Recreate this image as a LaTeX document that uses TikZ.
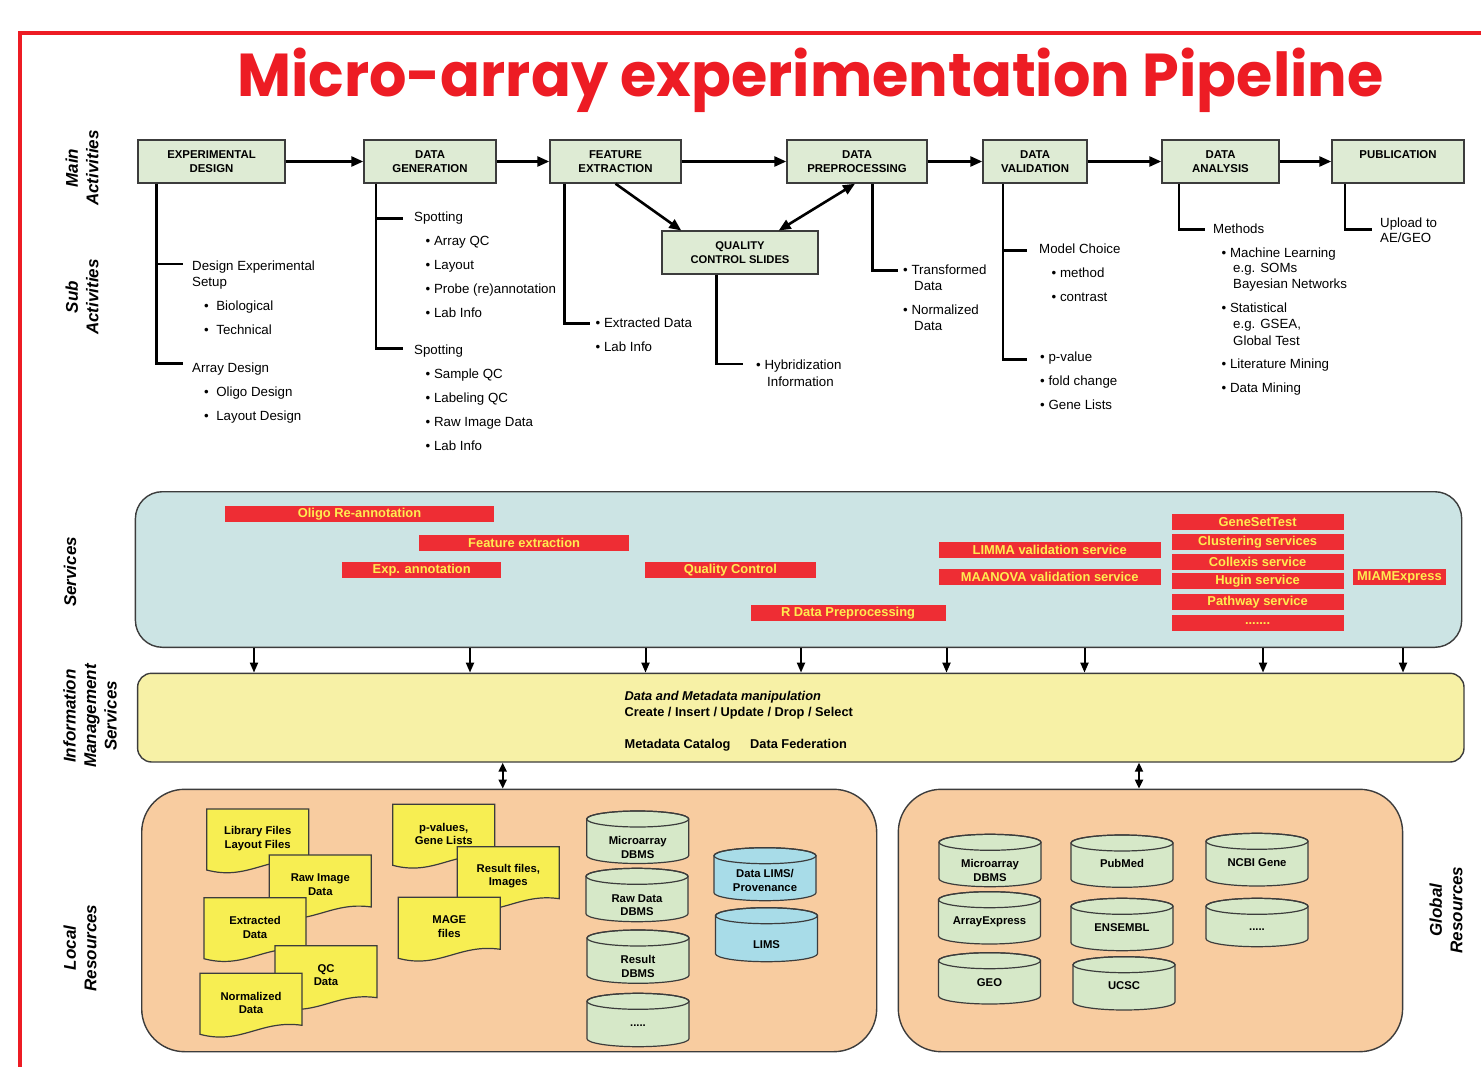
\documentclass[tikz,border=0pt]{standalone}
\usepackage{graphicx}
\usepackage{fontspec}
\setmainfont{Liberation Sans}
\newfontfamily\titlefont{Poppins}
\usetikzlibrary{arrows.meta}

\definecolor{framered}{RGB}{237,28,36}
\definecolor{boxgreen}{RGB}{222,235,212}
\definecolor{svcblue}{RGB}{204,228,228}
\definecolor{barred}{RGB}{238,45,52}
\definecolor{baryellow}{RGB}{255,236,80}
\definecolor{infoyellow}{RGB}{247,241,166}
\definecolor{peach}{RGB}{248,204,160}
\definecolor{docyellow}{RGB}{247,238,82}
\definecolor{cylgreen}{RGB}{214,232,200}
\definecolor{cylblue}{RGB}{168,220,232}
\definecolor{edge}{RGB}{60,60,60}

\tikzset{
  mainbox/.style={draw=edge, line width=1.4pt, fill=boxgreen, minimum height=43pt,
    inner sep=0pt, align=center, font=\bfseries\fontsize{11.4}{14}\selectfont},
  flow/.style={line width=2.6pt, -{Triangle[length=12pt,width=10pt]}},
  flowboth/.style={line width=2.6pt, {Triangle[length=12pt,width=10pt]}-{Triangle[length=12pt,width=10pt]}},
  tree/.style={line width=2.8pt},
  subtxt/.style={anchor=base west, inner sep=0pt, font=\fontsize{13.3}{16}\selectfont},
  axis/.style={rotate=90, align=center, inner sep=0pt,
    font=\bfseries\itshape\fontsize{17}{20.5}\selectfont},
  svcbar/.style={fill=barred, text=baryellow, inner sep=0pt,
    font=\bfseries\fontsize{12.9}{14}\selectfont},
  panel/.style={draw=edge, line width=1.4pt, inner sep=0pt},
  feed/.style={line width=2pt, -{Triangle[length=10pt,width=8pt]}},
  link/.style={line width=2pt, {Triangle[length=9pt,width=8pt]}-{Triangle[length=9pt,width=8pt]}},
  docline/.style={draw=edge, line width=1.2pt, fill=docyellow},
  dbline/.style={draw=edge, line width=1.2pt},
  restext/.style={align=center, inner sep=0pt, font=\bfseries\fontsize{11.3}{13.6}\selectfont},
  infotxt/.style={anchor=base west, inner sep=0pt, font=\bfseries\fontsize{12.8}{15}\selectfont},
}

% one line of sub-activity text: name, x, baseline y, text
\newcommand\actline[4]{\node[subtxt] (#1) at (#2,#3) {#4};}
% red service bar: name, x1, y1, x2, y2, label
\newcommand\service[6]{\node[svcbar, minimum width={#4-#2}, minimum height={#5-#3}]
  (#1) at ({(#2+#4)/2},{(#3+#5)/2}) {#6};}
% data file with a wavy lower edge: name, left x, top y, label
\newcommand\docfile[4]{%
  \filldraw[docline] (#2,#3) -- (#2+102,#3) -- (#2+102,#3+52)
    .. controls (#2+61,#3+46) and (#2+41,#3+72) .. (#2,#3+61) -- cycle;
  \node[restext] (#1) at (#2+51,#3+29.5) {#4};}
% database drum: name, left x, top y, height, fill, label, label y
\newcommand\dbcyl[7]{%
  \filldraw[dbline, fill=#5] (#2,#3+8) -- (#2,#3+#4-8)
    arc[start angle=180,end angle=360,x radius=51pt,y radius=8pt]
    -- (#2+102,#3+8)
    arc[start angle=0,end angle=180,x radius=51pt,y radius=8pt] -- cycle;
  \draw[dbline] (#2+51,#3+8) ellipse[x radius=51pt,y radius=8pt];
  \node[restext] (#1) at (#2+51,#7) {#6};}

\begin{document}
\begin{tikzpicture}[x=1pt,y=-1pt]
\useasboundingbox (0,0) rectangle (1481,1067);

% frame and title
\draw[framered, line width=4.5pt, line join=miter] (20,1067) -- (20,33) -- (1481,33);
\node[anchor=base west, inner sep=0pt, text=framered] (title) at (237,96.5)
  {\resizebox{1146pt}{48.5pt}{\titlefont\bfseries Micro-array experimentation Pipeline}};

% row labels
\node[axis] (lab-main) at (82,168) {Main\\Activities};
\node[axis] (lab-sub) at (82,297) {Sub\\Activities};
\node[axis] (lab-svc) at (70,572) {Services};
\node[axis] (lab-info) at (90,716) {Information\\Management\\Services};
\node[axis] (lab-local) at (80,948) {Local\\Resources};
\node[axis] (lab-global) at (1446,910) {Global\\Resources};

% main activities
\node[mainbox, minimum width=147pt] (ed) at (211.5,161.5) {EXPERIMENTAL\\DESIGN};
\node[mainbox, minimum width=132pt] (dg) at (430,161.5) {DATA\\GENERATION};
\node[mainbox, minimum width=131pt] (fe) at (615.5,161.5) {FEATURE\\EXTRACTION};
\node[mainbox, minimum width=140pt] (dp) at (857,161.5) {DATA\\PREPROCESSING};
\node[mainbox, minimum width=104pt] (dv) at (1035,161.5) {DATA\\VALIDATION};
\node[mainbox, minimum width=117pt] (da) at (1220.5,161.5) {DATA\\ANALYSIS};
\node[mainbox, minimum width=132pt] (pub) at (1398,161.5) {PUBLICATION\\\mbox{}};
\node[mainbox, minimum width=156pt, font=\bfseries\fontsize{11.2}{13.5}\selectfont]
  (qc) at (740,252.7) {QUALITY\\CONTROL SLIDES};

\draw[flow] (ed) -- (dg);
\draw[flow] (dg) -- (fe);
\draw[flow] (fe) -- (dp);
\draw[flow] (dp) -- (dv);
\draw[flow] (dv) -- (da);
\draw[flow] (da) -- (pub);
\draw[flow] (fe.south) -- ([xshift=20pt]qc.north west);
\draw[flowboth] ([xshift=-40pt]qc.north east) -- ([xshift=-2pt]dp.south);

% sub-activity trees
\coordinate (ed-stem) at (156.5,0);
\coordinate (ed-b1) at (182.5,264);
\coordinate (ed-b2) at (182.5,363.5);
\draw[tree] (ed.south -| ed-stem) |- (ed-b2);
\draw[tree] (ed-stem |- ed-b1) -- (ed-b1);

\coordinate (dg-stem) at (376,0);
\coordinate (dg-b1) at (403,218.5);
\coordinate (dg-b2) at (403,348.5);
\draw[tree] (dg.south -| dg-stem) |- (dg-b2);
\draw[tree] (dg-stem |- dg-b1) -- (dg-b1);

\coordinate (fe-stem) at (564.3,0);
\coordinate (fe-b1) at (590,323.5);
\draw[tree] (fe.south -| fe-stem) |- (fe-b1);

\coordinate (qc-stem) at (716.7,0);
\coordinate (qc-b1) at (743,364);
\draw[tree] (qc.south -| qc-stem) |- (qc-b1);

\coordinate (dp-stem) at (872.3,0);
\coordinate (dp-b1) at (898,270.5);
\draw[tree] (dp.south -| dp-stem) |- (dp-b1);

\coordinate (dv-stem) at (1003,0);
\coordinate (dv-b1) at (1026.7,250.5);
\coordinate (dv-b2) at (1026.7,359.3);
\draw[tree] (dv.south -| dv-stem) |- (dv-b2);
\draw[tree] (dv-stem |- dv-b1) -- (dv-b1);

\coordinate (da-stem) at (1179,0);
\coordinate (da-b1) at (1205,229.5);
\draw[tree] (da.south -| da-stem) |- (da-b1);

\coordinate (pub-stem) at (1345,0);
\coordinate (pub-b1) at (1371.7,229.5);
\draw[tree] (pub.south -| pub-stem) |- (pub-b1);

% sub-activity texts
\actline{ed1}{192}{271}{Design Experimental}
\actline{ed1b}{192}{286.5}{Setup}
\actline{ed2}{204}{311}{•\hspace{7.5pt}Biological}
\actline{ed3}{204}{334.5}{•\hspace{7.5pt}Technical}
\actline{ed4}{192}{372}{Array Design}
\actline{ed5}{204}{396}{•\hspace{7.5pt}Oligo Design}
\actline{ed6}{204}{420}{•\hspace{7.5pt}Layout Design}

\actline{dg1}{414}{222}{Spotting}
\actline{dg2}{425.5}{246}{• Array QC}
\actline{dg3}{425.5}{270}{• Layout}
\actline{dg4}{425.5}{294}{• Probe (re)annotation}
\actline{dg5}{425.5}{318}{• Lab Info}
\actline{dg6}{414}{355}{Spotting}
\actline{dg7}{425.5}{378.5}{• Sample QC}
\actline{dg8}{425.5}{402.5}{• Labeling QC}
\actline{dg9}{425.5}{426.5}{• Raw Image Data}
\actline{dg10}{425.5}{450.5}{• Lab Info}

\actline{fe1}{595.5}{328}{• Extracted Data}
\actline{fe2}{595.5}{352}{• Lab Info}

\actline{qc1}{756}{370}{• Hybridization}
\actline{qc2}{767}{386}{Information}

\actline{dp1}{903}{275}{• Transformed}
\actline{dp2}{914}{291}{Data}
\actline{dp3}{903}{315}{• Normalized}
\actline{dp4}{914}{331}{Data}

\actline{dv1}{1039}{254}{Model Choice}
\actline{dv2}{1051.5}{277.5}{• method}
\actline{dv3}{1051.5}{301.5}{• contrast}
\actline{dv4}{1040}{361.5}{• p-value}
\actline{dv5}{1040}{385}{• fold change}
\actline{dv6}{1040}{409}{• Gene Lists}

\actline{da1}{1213}{234}{Methods}
\actline{da2}{1221.5}{257.5}{• Machine Learning}
\actline{da3}{1233}{273}{e.g. SOMs}
\actline{da4}{1233}{289}{Bayesian Networks}
\actline{da5}{1221.5}{313}{• Statistical}
\actline{da6}{1233}{329}{e.g. GSEA,}
\actline{da7}{1233}{345}{Global Test}
\actline{da8}{1221.5}{368.5}{• Literature Mining}
\actline{da9}{1221.5}{392.5}{• Data Mining}

\actline{pb1}{1380}{227.5}{Upload to}
\actline{pb2}{1380}{243}{AE/GEO}

% services layer
\node[panel, fill=svcblue, rounded corners=27pt, minimum width=1326.3pt, minimum height=155.6pt]
  (services) at (798.55,569.5) {};
\service{s-oligo}{225}{505.7}{494}{521.7}{Oligo Re-annotation}
\service{s-feat}{419.3}{534.7}{629}{550.7}{Feature extraction}
\service{s-exp}{342}{562}{501.4}{578}{Exp. annotation}
\service{s-qc}{644.7}{562}{816}{578}{Quality Control}
\service{s-rdp}{750.5}{604.7}{945.6}{620.7}{R Data Preprocessing}
\service{s-limma}{938.9}{542.3}{1160.6}{558.3}{LIMMA validation service}
\service{s-maanova}{938.9}{569.3}{1160.6}{585.3}{MAANOVA validation service}
\service{s-gst}{1171.6}{513.7}{1343.6}{529.7}{GeneSetTest}
\service{s-clust}{1171.6}{534.3}{1343.6}{550.3}{Clustering services}
\service{s-coll}{1171.6}{553.7}{1343.6}{569.7}{Collexis service}
\service{s-hugin}{1171.6}{573}{1343.6}{589}{Hugin service}
\service{s-path}{1171.6}{594}{1343.6}{610}{Pathway service}
\service{s-more}{1171.6}{615.3}{1343.6}{631.3}{.......}
\service{s-miame}{1353.3}{569.3}{1445.6}{585.3}{MIAMExpress}

% information management layer
\node[panel, fill=infoyellow, rounded corners=14pt, minimum width=1326.4pt, minimum height=88.7pt]
  (info) at (800.8,717.65) {};
\node[infotxt] (i-1) at (624.4,700) {\itshape Data and Metadata manipulation};
\node[infotxt] (i-2) at (624.4,716) {Create / Insert / Update / Drop / Select};
\node[infotxt] (i-3) at (624.4,748) {Metadata Catalog};
\node[infotxt] (i-4) at (750,748) {Data Federation};

\foreach \x in {254,470,645.5,801,946.5,1084.5,1263,1403}
  \draw[feed] (services.south -| \x,0) -- (info.north -| \x,0);

% resource layers
\node[panel, fill=peach, rounded corners=43pt, minimum width=735pt, minimum height=262.4pt]
  (local) at (509.2,920.5) {};
\node[panel, fill=peach, rounded corners=43pt, minimum width=504.3pt, minimum height=262.4pt]
  (global) at (1150.45,920.5) {};
\draw[link] (info.south -| 502.7,0) -- (local.north -| 502.7,0);
\draw[link] (info.south -| 1139,0) -- (global.north -| 1139,0);

% local files
\docfile{f-lib}{206.7}{809}{Library Files\\Layout Files}
\docfile{f-raw}{269.3}{855}{Raw Image\\Data}
\docfile{f-ext}{204}{897.7}{Extracted\\Data}
\docfile{f-qc}{275}{945.7}{QC\\Data}
\docfile{f-norm}{200}{973.3}{Normalized\\Data}
\docfile{f-pval}{392.7}{804.3}{p-values,\\Gene Lists}
\docfile{f-res}{457.3}{846.7}{Result files,\\Images}
\docfile{f-mage}{398.3}{897.3}{MAGE\\files}

% local databases
\dbcyl{l-micro}{586.7}{811}{52.5}{cylgreen}{Microarray\\DBMS}{847.5}
\dbcyl{l-raw}{586}{868.3}{53.4}{cylgreen}{Raw Data\\DBMS}{905}
\dbcyl{l-res}{587}{930}{53.3}{cylgreen}{Result\\DBMS}{966.7}
\dbcyl{l-more}{587}{993.3}{53.4}{cylgreen}{.....}{1026}
\dbcyl{l-prov}{714}{847.7}{53}{cylblue}{Data LIMS/\\Provenance}{880.5}
\dbcyl{l-lims}{715.5}{907.7}{54}{cylblue}{LIMS}{945}

% global databases
\dbcyl{g-micro}{939}{834.3}{52.4}{cylgreen}{Microarray\\DBMS}{870.3}
\dbcyl{g-ae}{938.5}{891.7}{52.3}{cylgreen}{ArrayExpress}{921.7}
\dbcyl{g-geo}{938.5}{952.7}{51.3}{cylgreen}{GEO}{982.7}
\dbcyl{g-pub}{1071}{835}{52.3}{cylgreen}{PubMed}{863.3}
\dbcyl{g-ens}{1071}{898.3}{52.4}{cylgreen}{ENSEMBL}{927.3}
\dbcyl{g-ucsc}{1073}{956.7}{53.3}{cylgreen}{UCSC}{985.7}
\dbcyl{g-ncbi}{1206}{833.3}{52.7}{cylgreen}{NCBI Gene}{862.3}
\dbcyl{g-more}{1206}{898.3}{48.4}{cylgreen}{.....}{930}

\end{tikzpicture}
\end{document}
